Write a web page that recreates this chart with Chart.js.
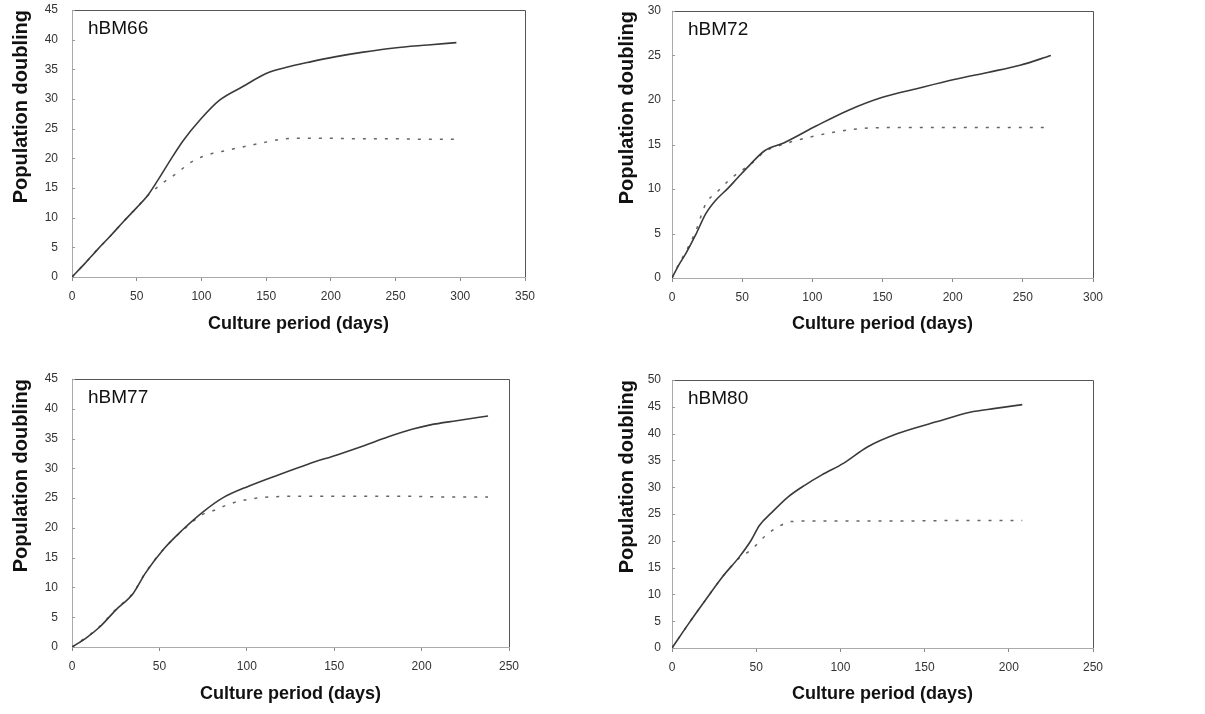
<!DOCTYPE html>
<html>
<head>
<meta charset="utf-8">
<script src="https://cdn.jsdelivr.net/npm/chart.js@4.4.1/dist/chart.umd.min.js"></script>
<style>
  html, body { margin: 0; padding: 0; background: #fff; }
  body { width: 1205px; height: 714px; position: relative; overflow: hidden; }
  .panel { position: absolute; }
</style>
</head>
<body>
<div class="panel" style="left:0;top:0"><canvas id="c66" width="560" height="345"></canvas></div>
<div class="panel" style="left:600px;top:0"><canvas id="c72" width="605" height="345"></canvas></div>
<div class="panel" style="left:0;top:369px"><canvas id="c77" width="560" height="345"></canvas></div>
<div class="panel" style="left:600px;top:369px"><canvas id="c80" width="605" height="345"></canvas></div>
<script>
// hBM66
const days66 = [0, 10, 20, 30, 40, 50, 58, 66, 76, 86, 99, 114, 132, 150, 165, 185, 203, 225, 249, 275, 297];
const pd66 = [0, 2.3, 4.7, 7.0, 9.4, 11.7, 13.6, 16.2, 19.7, 23.0, 26.5, 29.8, 32.1, 34.3, 35.3, 36.3, 37.1, 37.9, 38.6, 39.1, 39.5];
const days66b = [0, 10, 20, 30, 40, 50, 58, 68, 81, 91, 101, 121, 147, 165, 190, 220, 250, 275, 297];
const pd66b = [0, 2.3, 4.7, 7.0, 9.4, 11.7, 13.6, 15.5, 17.5, 19.2, 20.3, 21.4, 22.6, 23.3, 23.4, 23.3, 23.3, 23.2, 23.2];

// hBM72
const days72 = [0, 5, 10, 17, 24, 31, 40, 47, 56, 66, 80, 103, 125, 150, 175, 201, 225, 248, 270];
const pd72 = [0, 1.5, 2.8, 4.9, 7.2, 8.7, 10.1, 11.3, 12.8, 14.3, 15.2, 17.1, 18.8, 20.3, 21.3, 22.3, 23.1, 23.9, 25.0];
const days72b = [0, 5, 10, 17, 24, 33, 40, 47, 57, 66, 75, 85, 103, 129, 151, 180, 210, 240, 270];
const pd72b = [0, 1.6, 3.0, 5.3, 8.3, 9.8, 10.9, 11.8, 12.9, 14.2, 14.8, 15.3, 16.0, 16.7, 16.9, 16.9, 16.9, 16.9, 16.9];

// hBM77
const days77 = [0, 8, 16, 25, 35, 42, 52, 63, 75, 86, 101, 118, 135, 152, 167, 181, 195, 205, 220, 238];
const pd77 = [0, 1.5, 3.4, 6.2, 9.0, 12.4, 16.3, 19.6, 22.7, 25.0, 27.0, 28.9, 30.7, 32.3, 33.8, 35.3, 36.6, 37.3, 38.0, 38.8];
const days77b = [0, 8, 16, 25, 35, 42, 52, 63, 75, 80, 91, 101, 114, 130, 160, 190, 215, 238];
const pd77b = [0, 1.6, 3.5, 6.3, 9.1, 12.5, 16.3, 19.5, 22.3, 22.8, 24.1, 24.8, 25.2, 25.3, 25.3, 25.3, 25.2, 25.2];

// hBM80
const days80 = [0, 10, 20, 30, 40, 47, 52, 59, 69, 79, 89, 102, 116, 134, 157, 177, 192, 208];
const pd80 = [0, 4.6, 9.0, 13.3, 17.0, 20.1, 22.9, 25.2, 28.2, 30.4, 32.3, 34.5, 37.5, 40.0, 42.2, 44.0, 44.7, 45.4];
const days80b = [0, 10, 20, 30, 40, 47, 55, 63, 71, 85, 110, 140, 170, 190, 208];
const pd80b = [0, 4.6, 9.0, 13.3, 16.8, 18.3, 20.8, 22.6, 23.6, 23.7, 23.7, 23.7, 23.8, 23.8, 23.8];

const FONT = '"Liberation Sans", Arial, sans-serif';

// box top/right, little y ticks inside, panel name
const frame = {
  id: 'frame',
  afterDatasetsDraw(chart, args, opts) {
    const { ctx, chartArea: a, scales: { y } } = chart;
    ctx.save();
    ctx.strokeStyle = '#555';
    ctx.lineWidth = 1;
    ctx.beginPath();
    ctx.moveTo(a.left, a.top + 0.5);
    ctx.lineTo(a.right + 0.5, a.top + 0.5);
    ctx.lineTo(a.right + 0.5, a.bottom);
    ctx.stroke();
    ctx.strokeStyle = '#999';
    y.ticks.forEach(t => {
      const py = Math.round(y.getPixelForValue(t.value)) + 0.5;
      ctx.beginPath();
      ctx.moveTo(a.left, py);
      ctx.lineTo(a.left + 3, py);
      ctx.stroke();
    });
    ctx.fillStyle = '#111';
    ctx.font = '19px ' + FONT;
    ctx.fillText(opts.text, a.left + 16, a.top + 24);
    ctx.restore();
  }
};

function pts(d, v) {
  return d.map((x, i) => ({ x: x, y: v[i] }));
}

function makePanel(id, name, xMax, yMax, solidX, solidY, dashX, dashY, g) {
  new Chart(document.getElementById(id), {
    type: 'line',
    data: {
      datasets: [{
        data: pts(solidX, solidY),
        borderColor: '#3a3a3a',
        borderWidth: 1.6,
        pointRadius: 0,
        cubicInterpolationMode: 'monotone'
      }, {
        data: pts(dashX, dashY),
        borderColor: '#666',
        borderWidth: 1.5,
        borderDash: [3, 8],
        pointRadius: 0,
        cubicInterpolationMode: 'monotone'
      }]
    },
    options: {
      responsive: false,
      animation: false,
      devicePixelRatio: 1,
      layout: { padding: { top: g.top, right: g.right, left: 0, bottom: 0 } },
      plugins: {
        legend: { display: false },
        tooltip: { enabled: false },
        frame: { text: name }
      },
      scales: {
        x: {
          type: 'linear',
          min: 0, max: xMax,
          afterFit: s => { s.height = g.xh; },
          border: { color: '#aaa' },
          grid: { drawOnChartArea: false, tickLength: 4, color: '#888' },
          ticks: { stepSize: 50, autoSkip: false, maxRotation: 0, padding: 8, color: '#333', font: { family: FONT, size: 12 } },
          title: { display: true, text: 'Culture period (days)', color: '#111', padding: { top: 0, bottom: g.tb }, font: { family: FONT, size: 18, weight: 'bold' } }
        },
        y: {
          min: 0, max: yMax,
          afterFit: s => { s.width = g.left; },
          border: { color: '#aaa' },
          grid: { drawOnChartArea: false, drawTicks: true, tickLength: g.gap, tickColor: 'rgba(0,0,0,0)' },
          ticks: { stepSize: 5, autoSkip: false, padding: 2, color: '#333', font: { family: FONT, size: 12 } },
          title: { display: true, text: 'Population doubling', align: 'end', color: '#111', padding: { top: g.tl, bottom: 0 }, font: { family: FONT, size: 20, weight: 'bold' } }
        }
      }
    },
    plugins: [frame]
  });
}

makePanel('c66', 'hBM66', 350, 45, days66, pd66, days66b, pd66b, { left: 72, top: 10, right: 35, xh: 68, tb: 10, gap: 12, tl: 9 });
makePanel('c72', 'hBM72', 300, 30, days72, pd72, days72b, pd72b, { left: 72, top: 11, right: 112, xh: 67, tb: 10, gap: 9, tl: 15 });
makePanel('c77', 'hBM77', 250, 45, days77, pd77, days77b, pd77b, { left: 72, top: 10, right: 51, xh: 67, tb: 9, gap: 12, tl: 9 });
makePanel('c80', 'hBM80', 250, 50, days80, pd80, days80b, pd80b, { left: 72, top: 11, right: 112, xh: 66, tb: 9, gap: 9, tl: 15 });
</script>
</body>
</html>
